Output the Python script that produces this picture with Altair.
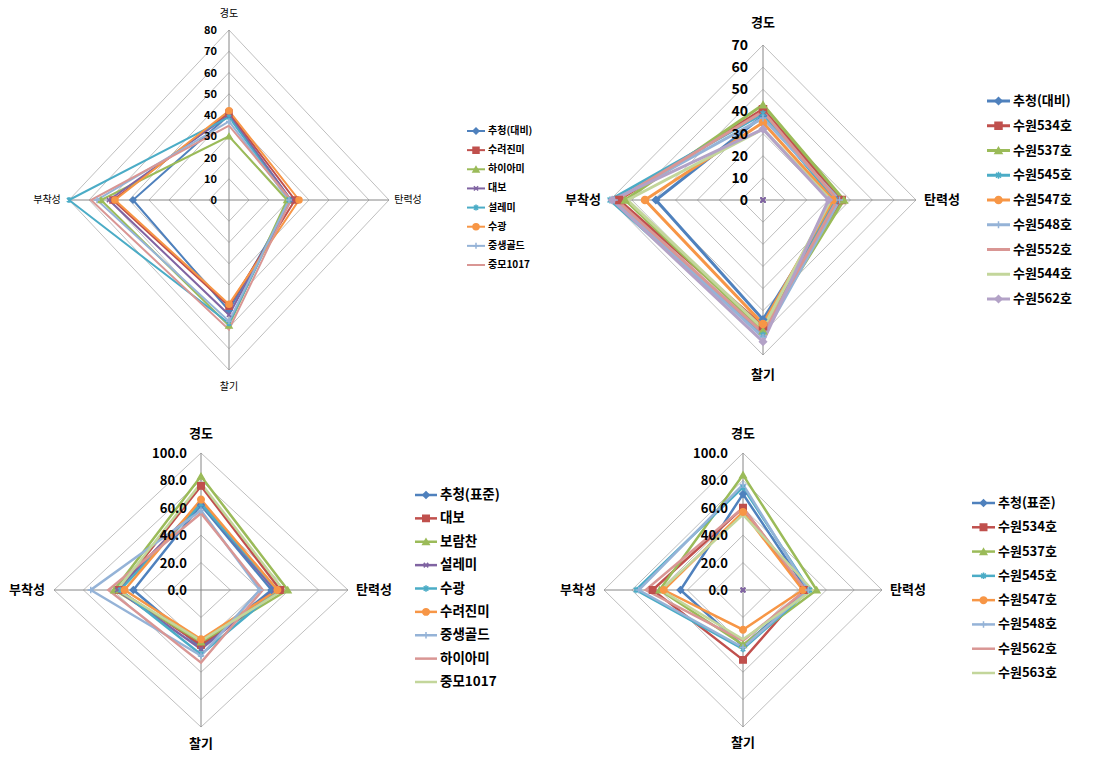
import altair as alt
import pandas as pd

AXES = ["경도", "탄력성", "찰기", "부착성"]

# ---------------- Panel 1 (top-left) ----------------
p1_names = ["추청(대비)", "수려진미", "하이아미", "대보", "설레미", "수광", "중생골드", "중모1017"]
p1_hardness = [40, 41, 30, 40, 39, 42, 37, 35]
p1_elasticity = [31, 33, 29, 31, 30, 35, 30, 31]
p1_stickiness = [52, 50, 59, 54, 58, 49, 57, 61]
p1_adhesion = [48, 58, 64, 60, 80, 57, 66, 69]
p1_ticks = [0, 10, 20, 30, 40, 50, 60, 70, 80]

# ---------------- Panel 2 (top-right) ----------------
p2_names = ["추청(대비)", "수원534호", "수원537호", "계열4", "수원545호", "수원547호",
            "수원548호", "수원552호", "수원544호", "수원562호"]
p2_hardness = [38, 41, 43, 0, 39, 35, 37, 40, 32, 32]
p2_elasticity = [34, 36, 37, 0, 33, 32, 35, 34, 31, 30]
p2_stickiness = [54, 57, 59, 0, 61, 56, 62, 60, 58, 64]
p2_adhesion = [49, 66, 63, 0, 70, 54, 68, 67, 62, 69]
p2_ticks = [0, 10, 20, 30, 40, 50, 60, 70]

# ---------------- Panel 3 (bottom-left) ----------------
p3_names = ["추청(표준)", "대보", "보람찬", "설레미", "수광", "수려진미", "중생골드", "하이아미", "중모1017"]
p3_hardness = [62, 76, 83, 64, 63, 66, 58, 56, 78]
p3_elasticity = [48, 54, 59, 50, 52, 52, 40, 42, 56]
p3_stickiness = [42, 40, 38, 43, 47, 36, 48, 53, 37]
p3_adhesion = [46, 56, 59, 57, 55, 52, 75, 63, 57]
p3_ticks = [0, 20, 40, 60, 80, 100]

# ---------------- Panel 4 (bottom-right) ----------------
p4_names = ["추청(표준)", "수원534호", "수원537호", "계열4", "수원545호", "수원547호",
            "수원548호", "수원562호", "수원563호"]
p4_hardness = [70, 60, 84, 0, 75, 57, 77, 60, 55]
p4_elasticity = [46, 44, 53, 0, 48, 43, 47, 45, 50]
p4_stickiness = [41, 51, 40, 0, 43, 29, 42, 37, 36]
p4_adhesion = [45, 65, 60, 0, 77, 57, 75, 70, 59]
p4_ticks = [0, 20, 40, 60, 80, 100]

# ---------------- styles ----------------
BLUE, RED, GREEN, PURPLE, AQUA, ORANGE = "#4F81BD", "#C0504D", "#9BBB59", "#8064A2", "#4BACC6", "#F79646"
LBLUE, PINK, LGREEN, LPURPLE = "#95B3D7", "#D99694", "#C3D69B", "#B3A2C7"

SHAPES = {
    "diamond": "diamond",
    "square": "square",
    "triangle": "triangle-up",
    "x": "M-0.7,-0.7L0.7,0.7M-0.7,0.7L0.7,-0.7",
    "star": "M-0.7,-0.7L0.7,0.7M-0.7,0.7L0.7,-0.7M0,-1L0,1",
    "circle": "circle",
    "plus": "M-1,0L1,0M0,-1L0,1",
}

FONT = "Noto Sans CJK KR"


def radar_frame(names, cols):
    rows = []
    for i, n in enumerate(names):
        for k in range(5):
            rows.append({"series": n, "k": k, "value": cols[k % 4][i]})
    return pd.DataFrame(rows)


def make_panel(names, cols, colors, markers, legend_names, ticks, fmt, g):
    W, H, cx, cy, rx, ry, maxv = g["W"], g["H"], g["cx"], g["cy"], g["rx"], g["ry"], g["max"]
    pux, puy = rx / maxv, ry / maxv
    xs = alt.Scale(domain=[-cx / pux, (W - cx) / pux], nice=False, zero=False)
    ys = alt.Scale(domain=[-(H - cy) / puy, cy / puy], nice=False, zero=False)

    def X(f):
        return alt.X(f, scale=xs, axis=None)

    def Y(f):
        return alt.Y(f, scale=ys, axis=None)

    colscale = alt.Scale(domain=names, range=colors)
    marker_names = [n for n, m in zip(names, markers) if m]
    marker_shapes = [SHAPES[m] for m in markers if m]
    shapescale = alt.Scale(domain=marker_names, range=marker_shapes)

    polar = dict(px="datum.value*sin(datum.k*PI/2)", py="datum.value*cos(datum.k*PI/2)")

    rings = [t for t in ticks if t > 0]
    grid_df = pd.DataFrame([{"ring": r, "k": k, "value": r} for r in rings for k in range(5)])
    grid = alt.Chart(grid_df).mark_line(color="#BFBFBF", strokeWidth=1).transform_calculate(**polar).encode(
        x=X("px:Q"), y=Y("py:Q"), detail="ring:N", order="k:Q")

    spoke_df = pd.DataFrame({"k": [0, 1, 2, 3], "value": [maxv] * 4})
    spokes = alt.Chart(spoke_df).mark_rule(color="#868686", strokeWidth=1).transform_calculate(
        zero="0", **polar).encode(x=X("zero:Q"), y=Y("zero:Q"), x2="px:Q", y2="py:Q")

    tick_df = pd.DataFrame({"t": ticks})
    tick_text = alt.Chart(tick_df).mark_text(
        align="right", baseline="middle", dx=-g["tick_gap"], dy=1, font=FONT,
        fontSize=g["tick_size"], fontWeight="bold", color="#000000").transform_calculate(zero="0").encode(
        x=X("zero:Q"), y=Y("t:Q"), text=alt.Text("t:Q", format=fmt))

    gaps = g["label_gaps"]
    lab_df = pd.DataFrame({"label": AXES, "k": [0, 1, 2, 3]})
    gx = f"(datum.k==1 ? {gaps[1] / pux} : {gaps[3] / pux})"
    gy = f"(datum.k==0 ? {gaps[0] / puy} : {gaps[2] / puy})"
    labels = alt.Chart(lab_df).mark_text(
        align="center", baseline="middle", font=FONT, fontSize=g["label_size"],
        fontWeight=g["label_weight"], color="#000000").transform_calculate(
        lx=f"sin(datum.k*PI/2)*({maxv}+{gx})", ly=f"cos(datum.k*PI/2)*({maxv}+{gy})").encode(
        x=X("lx:Q"), y=Y("ly:Q"), text="label:N")

    rdf = radar_frame(names, cols)
    lines = alt.Chart(rdf).mark_line(strokeWidth=g["lw"]).transform_calculate(**polar).encode(
        x=X("px:Q"), y=Y("py:Q"), color=alt.Color("series:N", scale=colscale, legend=None),
        detail="series:N", order="k:Q")

    pts = alt.Chart(rdf).mark_point(filled=True, strokeWidth=1.5, opacity=1, size=g["msize"]).transform_filter(
        alt.FieldOneOfPredicate(field="series", oneOf=marker_names)).transform_filter(
        "datum.k < 4").transform_calculate(**polar).encode(
        x=X("px:Q"), y=Y("py:Q"),
        fill=alt.Fill("series:N", scale=colscale, legend=None),
        stroke=alt.Stroke("series:N", scale=colscale, legend=None),
        shape=alt.Shape("series:N", scale=shapescale, legend=None))

    # legend
    leg_df = pd.DataFrame({"series": legend_names})
    ly = alt.Y("series:N", scale=alt.Scale(type="point", domain=legend_names,
                                           range=[g["ly0"], g["ly1"]], padding=0), axis=None)
    leg_line = alt.Chart(leg_df).mark_rule(strokeWidth=g["lw"]).encode(
        x=alt.value(g["lx0"]), x2=alt.value(g["lx1"]), y=ly,
        color=alt.Color("series:N", scale=colscale, legend=None))
    leg_mk = [n for n in legend_names if n in marker_names]
    leg_pts = alt.Chart(leg_df).mark_point(filled=True, strokeWidth=1.5, opacity=1, size=g["msize"]).transform_filter(
        alt.FieldOneOfPredicate(field="series", oneOf=leg_mk)).encode(
        x=alt.value((g["lx0"] + g["lx1"]) / 2), y=ly,
        fill=alt.Fill("series:N", scale=colscale, legend=None),
        stroke=alt.Stroke("series:N", scale=colscale, legend=None),
        shape=alt.Shape("series:N", scale=shapescale, legend=None))
    leg_text = alt.Chart(leg_df).mark_text(
        align="left", baseline="middle", font=FONT, fontSize=g["leg_size"], fontWeight="bold",
        color="#000000").encode(x=alt.value(g["tx"]), y=ly, text="series:N")

    return alt.layer(grid, spokes, lines, pts, tick_text, labels, leg_line, leg_pts, leg_text).resolve_scale(
        y="independent").properties(width=W, height=H)


M8 = ["diamond", "square", "triangle", "x", "star", "circle", "plus", None]

g1 = dict(W=540, H=395, cx=221, cy=192, rx=160, ry=170, max=80, tick_gap=12, tick_size=11,
          label_size=10, label_weight="normal", label_gaps=[16, 19, 17, 22], lw=2, msize=36,
          ly0=123, ly1=257, lx0=459, lx1=477, tx=480, leg_size=10)
g2 = dict(W=563, H=395, cx=215, cy=192, rx=153, ry=155, max=70, tick_gap=15, tick_size=14,
          label_size=13, label_weight="bold", label_gaps=[22, 26, 20, 27], lw=3, msize=49,
          ly0=93, ly1=291, lx0=439, lx1=462, tx=465, leg_size=13)
g3 = dict(W=540, H=351, cx=193, cy=187, rx=147, ry=137, max=100, tick_gap=14, tick_size=13,
          label_size=13, label_weight="bold", label_gaps=[19, 26, 17, 27], lw=2.5, msize=42,
          ly0=92, ly1=279, lx0=407, lx1=429, tx=432, leg_size=13.5)
g4 = dict(W=563, H=351, cx=195, cy=187, rx=139, ry=137, max=100, tick_gap=15, tick_size=13,
          label_size=13, label_weight="bold", label_gaps=[19, 26, 16, 26], lw=2.5, msize=42,
          ly0=100, ly1=270, lx0=424, lx1=447, tx=450, leg_size=13)

p1 = make_panel(p1_names, [p1_hardness, p1_elasticity, p1_stickiness, p1_adhesion],
                [BLUE, RED, GREEN, PURPLE, AQUA, ORANGE, LBLUE, PINK], M8,
                p1_names, p1_ticks, "d", g1)
p2 = make_panel(p2_names, [p2_hardness, p2_elasticity, p2_stickiness, p2_adhesion],
                [BLUE, RED, GREEN, PURPLE, AQUA, ORANGE, LBLUE, PINK, LGREEN, LPURPLE],
                ["diamond", "square", "triangle", "x", "star", "circle", "plus", None, None, "diamond"],
                [n for n in p2_names if n != "계열4"], p2_ticks, "d", g2)
p3 = make_panel(p3_names, [p3_hardness, p3_elasticity, p3_stickiness, p3_adhesion],
                [BLUE, RED, GREEN, PURPLE, AQUA, ORANGE, LBLUE, PINK, LGREEN],
                ["diamond", "square", "triangle", "x", "star", "circle", "plus", None, None],
                p3_names, p3_ticks, ".1f", g3)
p4 = make_panel(p4_names, [p4_hardness, p4_elasticity, p4_stickiness, p4_adhesion],
                [BLUE, RED, GREEN, PURPLE, AQUA, ORANGE, LBLUE, PINK, LGREEN],
                ["diamond", "square", "triangle", "x", "star", "circle", "plus", None, None],
                [n for n in p4_names if n != "계열4"], p4_ticks, ".1f", g4)

chart = alt.concat(p1, p2, p3, p4, columns=2, spacing=0, bounds="flush").resolve_scale(
    color="independent", fill="independent", stroke="independent", shape="independent"
).properties(padding=0, background="white").configure_view(strokeWidth=0)

chart.save("out.html", embed_options={"renderer": "svg", "actions": False})
